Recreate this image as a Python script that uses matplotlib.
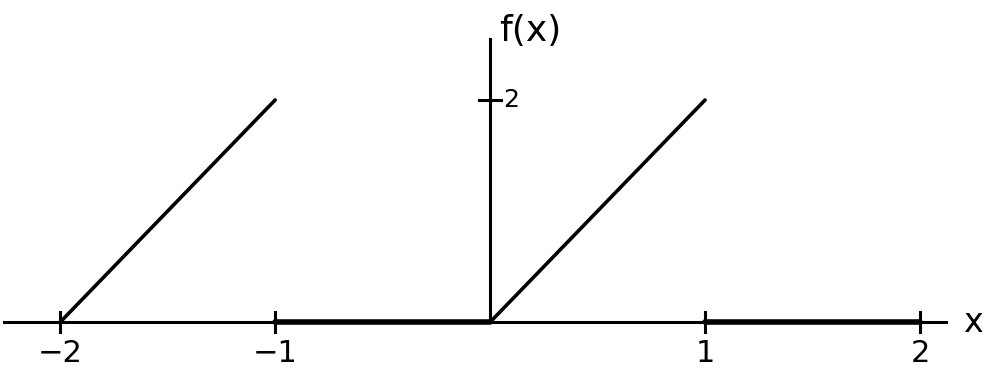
import matplotlib.pyplot as plt

# sketch of f(x): ramps 2x on [0,1) repeated with period 2, zero elsewhere
ramp_x = [[-2, -1], [0, 1]]
ramp_y = [[0, 2], [0, 2]]
flat_x = [[-1, 0], [1, 2]]
flat_y = [[0, 0], [0, 0]]
x_ticks = [-2, -1, 1, 2]
x_tick_labels = ['−2', '−1', '1', '2']
y_ticks = [2]
y_tick_labels = ['2']

fig = plt.figure(figsize=(9.91, 3.81), dpi=100)
ax = fig.add_axes([0, 0, 1, 1])
ax.set_xlim(-2.28, 2.33)
ax.set_ylim(-0.53, 2.9)
ax.set_axis_off()

# axes
ax.plot([-2.26, 2.12], [0, 0], color='black', lw=2.2)
ax.plot([0, 0], [0, 2.55], color='black', lw=2.2)

for xs, ys in zip(ramp_x, ramp_y):
    ax.plot(xs, ys, color='black', lw=2.6, solid_capstyle='round')
for xs, ys in zip(flat_x, flat_y):
    ax.plot(xs, ys, color='black', lw=4, solid_capstyle='round')

# ticks
for t, lab in zip(x_ticks, x_tick_labels):
    ax.plot([t, t], [-0.09, 0.09], color='black', lw=2.2)
    ax.text(t, -0.28, lab, ha='center', va='center', fontsize=22)
for t, lab in zip(y_ticks, y_tick_labels):
    ax.plot([-0.05, 0.05], [t, t], color='black', lw=2.2)
    ax.text(0.06, t, lab, ha='left', va='center', fontsize=18)

ax.text(0.04, 2.62, 'f(x)', ha='left', va='center', fontsize=26)
ax.text(2.2, 0, 'x', ha='left', va='center', fontsize=24)

fig.savefig('out.png', dpi=100)
